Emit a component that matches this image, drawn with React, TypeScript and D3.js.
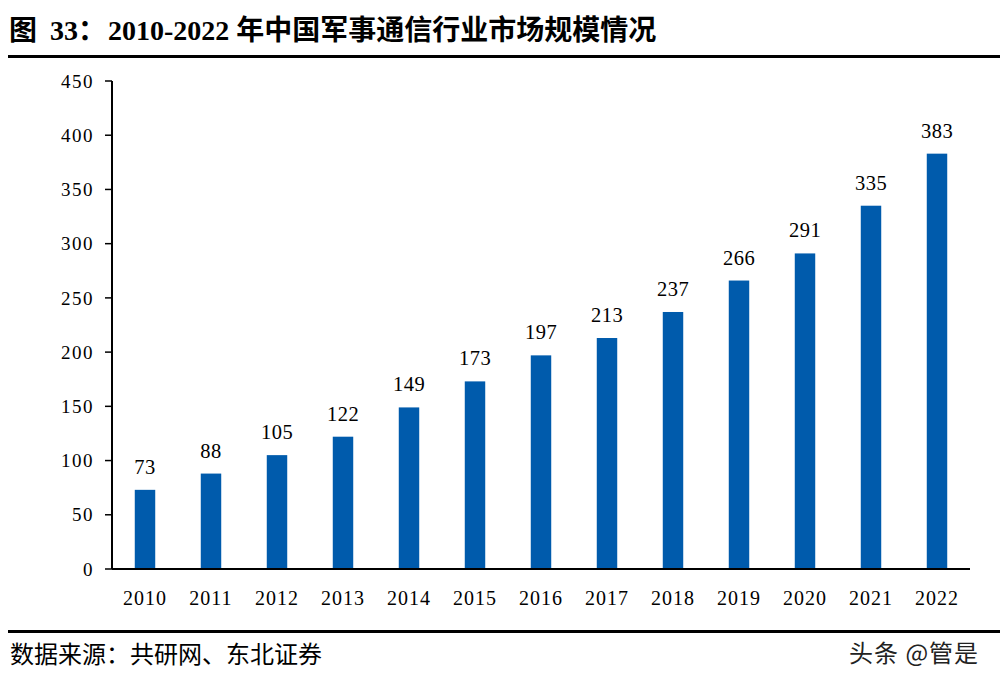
import React from "react";
import * as d3 from "d3";

const years = ["2010","2011","2012","2013","2014","2015","2016","2017","2018","2019","2020","2021","2022"];
const values = [73, 88, 105, 122, 149, 173, 197, 213, 237, 266, 291, 335, 383];
const yTicks = [0, 50, 100, 150, 200, 250, 300, 350, 400, 450];
const titleHead = "图";
const titleNum = "33：";
const titleRest = "2010-2022 年中国军事通信行业市场规模情况";
const source = "数据来源：共研网、东北证券";
const watermark = "头条 @管是";

export default function App() {
  const W = 1001, H = 678;
  const x0 = 112, x1 = 970, yTop = 81, yBot = 569;
  const x = d3.scaleBand<string>().domain(years).range([x0, x1]).paddingInner(0.69).paddingOuter(0.345);
  const y = d3.scaleLinear().domain([0, 450]).range([yBot, yTop]);
  const serif = "'Liberation Serif', 'Times New Roman', serif";
  const cjk = "'Liberation Serif', 'Noto Sans CJK SC', serif";
  return (
    <svg width={W} height={H} style={{ position: "absolute", left: 0, top: 0, background: "#fff" }}>
      <text y={40} fontFamily={cjk} fontWeight="bold" fontSize={28} fill="#000">
        <tspan x={9}>{titleHead}</tspan>
        <tspan x={50}>{titleNum}</tspan>
        <tspan x={108}>{titleRest}</tspan>
      </text>
      <rect x={8} y={55} width={992} height={3} fill="#000" />
      {yTicks.map(t => (
        <g key={t}>
          <line x1={105} x2={x0} y1={y(t)} y2={y(t)} stroke="#000" strokeWidth={1.5} />
          <text x={94} y={y(t)} dy="0.35em" textAnchor="end" fontFamily={serif} fontSize={19} letterSpacing={1.5} fill="#000">{t}</text>
        </g>
      ))}
      <line x1={x0} x2={x0} y1={yTop} y2={yBot} stroke="#000" strokeWidth={2} />
      {years.map((yr, i) => (
        <g key={yr}>
          <rect x={x(yr)} y={y(values[i])} width={x.bandwidth()} height={yBot - y(values[i])} fill="#005BAC" />
          <text x={x(yr)! + x.bandwidth() / 2} y={y(values[i]) - 16} textAnchor="middle" fontFamily={serif} fontSize={20.5} letterSpacing={0.5} fill="#000">{values[i]}</text>
          <text x={x(yr)! + x.bandwidth() / 2} y={605} textAnchor="middle" fontFamily={serif} fontSize={20} letterSpacing={1} fill="#000">{yr}</text>
        </g>
      ))}
      <line x1={x0} x2={x1} y1={yBot} y2={yBot} stroke="#000" strokeWidth={2} />
      <rect x={8} y={630} width={992} height={3} fill="#000" />
      <text x={10} y={663} fontFamily={cjk} fontSize={24} fill="#000">{source}</text>
      <text x={849} y={662} fontFamily="'Noto Sans CJK SC', sans-serif" fontSize={24} letterSpacing={1} fill="#222">{watermark}</text>
    </svg>
  );
}
